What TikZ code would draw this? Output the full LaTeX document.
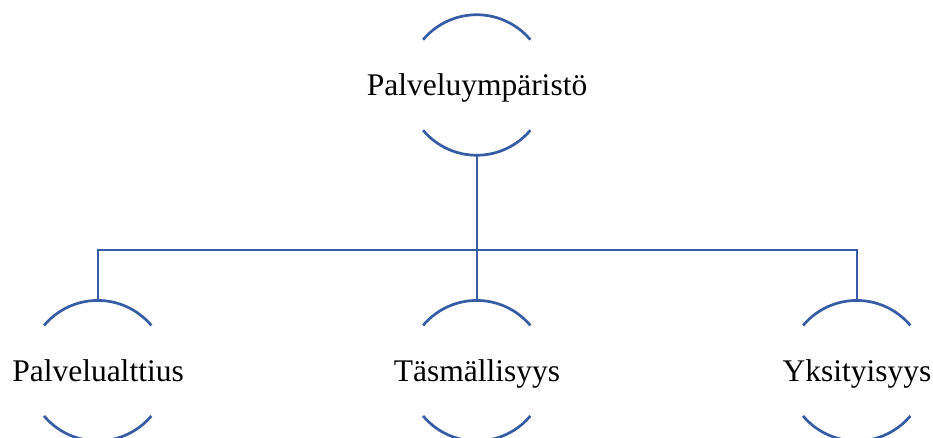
\documentclass[tikz,border=0pt]{standalone}
\usepackage{fontspec}
\setmainfont{Liberation Serif}
\definecolor{ringblue}{RGB}{54,92,166}
\tikzset{
  ring/.style={circle, minimum size=70pt, inner sep=0pt},
  caption/.style={anchor=base, inner sep=0pt, font=\fontsize{15.75}{18}\selectfont},
  link/.style={draw=ringblue, line width=1.35pt}
}
\begin{document}
\begin{tikzpicture}[x=0.5pt,y=0.5pt]
  \useasboundingbox (0,0) rectangle (933,438);
  % rings
  \node[ring] (ymp) at (477,353) {};
  \node[ring] (alt) at (98,67.3) {};
  \node[ring] (tas) at (477,67.3) {};
  \node[ring] (yks) at (857,67.3) {};
  \coordinate (split) at (477,188);
  % texts
  \node[caption] (ymp-t) at ([yshift=-5.25pt]ymp.center) {Palveluympäristö};
  \node[caption] (alt-t) at ([yshift=-5.25pt]alt.center) {Palvelualttius};
  \node[caption] (tas-t) at ([yshift=-5.25pt]tas.center) {Täsmällisyys};
  \node[caption] (yks-t) at ([yshift=-5.25pt]yks.center) {Yksityisyys};
  \foreach \n in {ymp,alt,tas,yks}{
    \draw[link] (\n.140) arc[start angle=140, end angle=40, radius=35pt];
    \draw[link] (\n.220) arc[start angle=220, end angle=320, radius=35pt];
  }
  % connectors
  \draw[link] (ymp.south) -- (tas.north);
  \draw[link] (alt.north) |- (split) -| (yks.north);
\end{tikzpicture}
\end{document}
